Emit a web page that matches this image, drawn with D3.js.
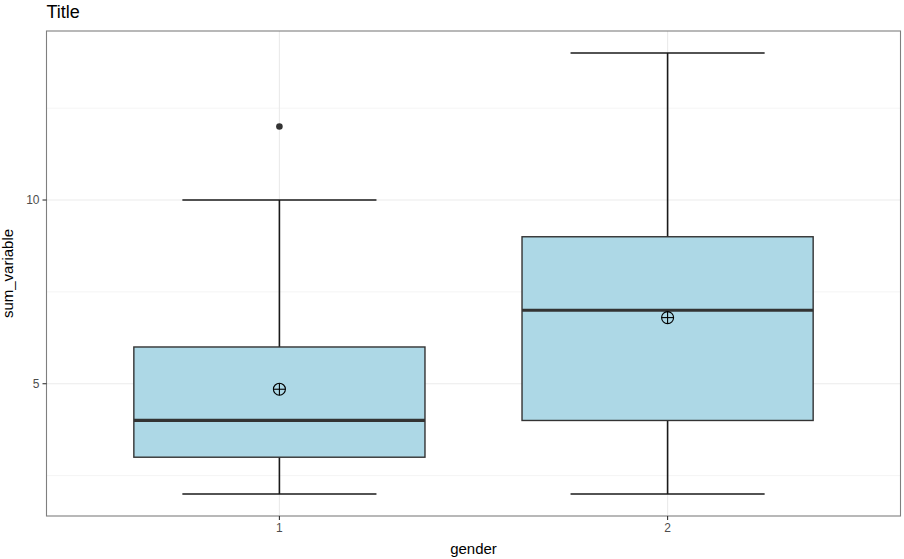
<!DOCTYPE html>
<html>
<head>
<meta charset="utf-8">
<script src="https://cdn.jsdelivr.net/npm/d3@7"></script>
<style>
  body { margin: 0; background: #fff; }
  text { font-family: "Liberation Sans", Arial, sans-serif; }
</style>
</head>
<body>
<div id="chart"></div>
<script>
// data
const categories = ["1", "2"];
const whiskerLow = [2, 2];
const q1 = [3, 4];
const medians = [4, 7];
const q3 = [6, 9];
const whiskerHigh = [10, 14];
const means = [4.85, 6.8];
const outliers = [[12], []];
const yTicks = [5, 10];
const yMinor = [2.5, 7.5, 12.5];

const W = 904, H = 559;
const margin = {top: 31, right: 3.5, bottom: 43, left: 46.5};
const pw = W - margin.left - margin.right, ph = H - margin.top - margin.bottom;

const svg = d3.select("#chart").append("svg")
  .attr("width", W)
  .attr("height", H);

const g = svg.append("g").attr("transform", "translate(" + margin.left + "," + margin.top + ")");

//x: discrete positions 1..n with ggplot's 0.6 expansion
const x = d3.scaleLinear().domain([0.4, categories.length + 0.6]).range([0, pw]);
const y = d3.scaleLinear().domain([1.4, 14.6]).range([ph, 0]);

const boxW = (x(2) - x(1)) * 0.75;
const capW = (x(2) - x(1)) * 0.5;

//grid
g.selectAll(".minor").data(yMinor).enter().append("line")
  .attr("x1", 0).attr("x2", pw)
  .attr("y1", d => y(d)).attr("y2", d => y(d))
  .style("stroke", "#ebebeb").style("stroke-width", 0.55);
g.selectAll(".major").data(yTicks).enter().append("line")
  .attr("x1", 0).attr("x2", pw)
  .attr("y1", d => y(d)).attr("y2", d => y(d))
  .style("stroke", "#ebebeb").style("stroke-width", 1.1);
g.selectAll(".vmajor").data(categories).enter().append("line")
  .attr("x1", (d, i) => x(i + 1)).attr("x2", (d, i) => x(i + 1))
  .attr("y1", 0).attr("y2", ph)
  .style("stroke", "#ebebeb").style("stroke-width", 1.1);

const idx = d3.range(categories.length);

//error bar (whiskers with caps)
const eb = g.selectAll(".eb").data(idx).enter().append("g");
eb.append("line")
  .attr("x1", i => x(i + 1)).attr("x2", i => x(i + 1))
  .attr("y1", i => y(whiskerLow[i])).attr("y2", i => y(whiskerHigh[i]))
  .style("stroke", "#1a1a1a").style("stroke-width", 1.6);
eb.append("line")
  .attr("x1", i => x(i + 1) - capW / 2).attr("x2", i => x(i + 1) + capW / 2)
  .attr("y1", i => y(whiskerLow[i])).attr("y2", i => y(whiskerLow[i]))
  .style("stroke", "#1a1a1a").style("stroke-width", 1.6);
eb.append("line")
  .attr("x1", i => x(i + 1) - capW / 2).attr("x2", i => x(i + 1) + capW / 2)
  .attr("y1", i => y(whiskerHigh[i])).attr("y2", i => y(whiskerHigh[i]))
  .style("stroke", "#1a1a1a").style("stroke-width", 1.6);

//boxes
const bx = g.selectAll(".box").data(idx).enter().append("g");
bx.append("rect")
  .attr("x", i => x(i + 1) - boxW / 2)
  .attr("width", boxW)
  .attr("y", i => y(q3[i]))
  .attr("height", i => y(q1[i]) - y(q3[i]))
  .style("fill", "#add8e6")
  .style("stroke", "#333333")
  .style("stroke-width", 1.4);
bx.append("line")
  .attr("x1", i => x(i + 1) - boxW / 2).attr("x2", i => x(i + 1) + boxW / 2)
  .attr("y1", i => y(medians[i])).attr("y2", i => y(medians[i]))
  .style("stroke", "#333333").style("stroke-width", 3.2);

//outliers
idx.forEach(i => {
  g.selectAll(".out" + i).data(outliers[i]).enter().append("circle")
    .attr("cx", x(i + 1)).attr("cy", d => y(d)).attr("r", 3.3)
    .style("fill", "#333333");
});

//means: circle plus
const mn = g.selectAll(".mean").data(idx).enter().append("g")
  .attr("transform", i => "translate(" + x(i + 1) + "," + y(means[i]) + ")");
mn.append("circle").attr("r", 6).style("fill", "none").style("stroke", "#000").style("stroke-width", 1.1);
mn.append("line").attr("x1", -6).attr("x2", 6).style("stroke", "#000").style("stroke-width", 1.1);
mn.append("line").attr("y1", -6).attr("y2", 6).style("stroke", "#000").style("stroke-width", 1.1);

//panel border
g.append("rect").attr("width", pw).attr("height", ph)
  .style("fill", "none").style("stroke", "#7f7f7f").style("stroke-width", 1.1);

//axes ticks & labels
g.selectAll(".yt").data(yTicks).enter().append("line")
  .attr("x1", -4).attr("x2", 0).attr("y1", d => y(d)).attr("y2", d => y(d))
  .style("stroke", "#333333").style("stroke-width", 1.1);
g.selectAll(".ytl").data(yTicks).enter().append("text")
  .attr("x", -7).attr("y", d => y(d)).attr("dy", "0.35em")
  .attr("text-anchor", "end")
  .style("font-size", "12px").style("fill", "#4d4d4d")
  .text(d => d);
g.selectAll(".xt").data(categories).enter().append("line")
  .attr("x1", (d, i) => x(i + 1)).attr("x2", (d, i) => x(i + 1))
  .attr("y1", ph).attr("y2", ph + 4)
  .style("stroke", "#333333").style("stroke-width", 1.1);
g.selectAll(".xtl").data(categories).enter().append("text")
  .attr("x", (d, i) => x(i + 1)).attr("y", ph + 16)
  .attr("text-anchor", "middle")
  .style("font-size", "12px").style("fill", "#4d4d4d")
  .text(d => d);

//titles
g.append("text").attr("x", pw / 2).attr("y", ph + 38)
  .attr("text-anchor", "middle").style("font-size", "15px").style("fill", "#000")
  .text("gender");
g.append("text")
  .attr("transform", "translate(-34," + (ph / 2) + ") rotate(-90)")
  .attr("text-anchor", "middle").style("font-size", "15px").style("fill", "#000")
  .text("sum_variable");
svg.append("text").attr("x", margin.left).attr("y", 18)
  .style("font-size", "18px").style("fill", "#000")
  .text("Title");
</script>
</body>
</html>
